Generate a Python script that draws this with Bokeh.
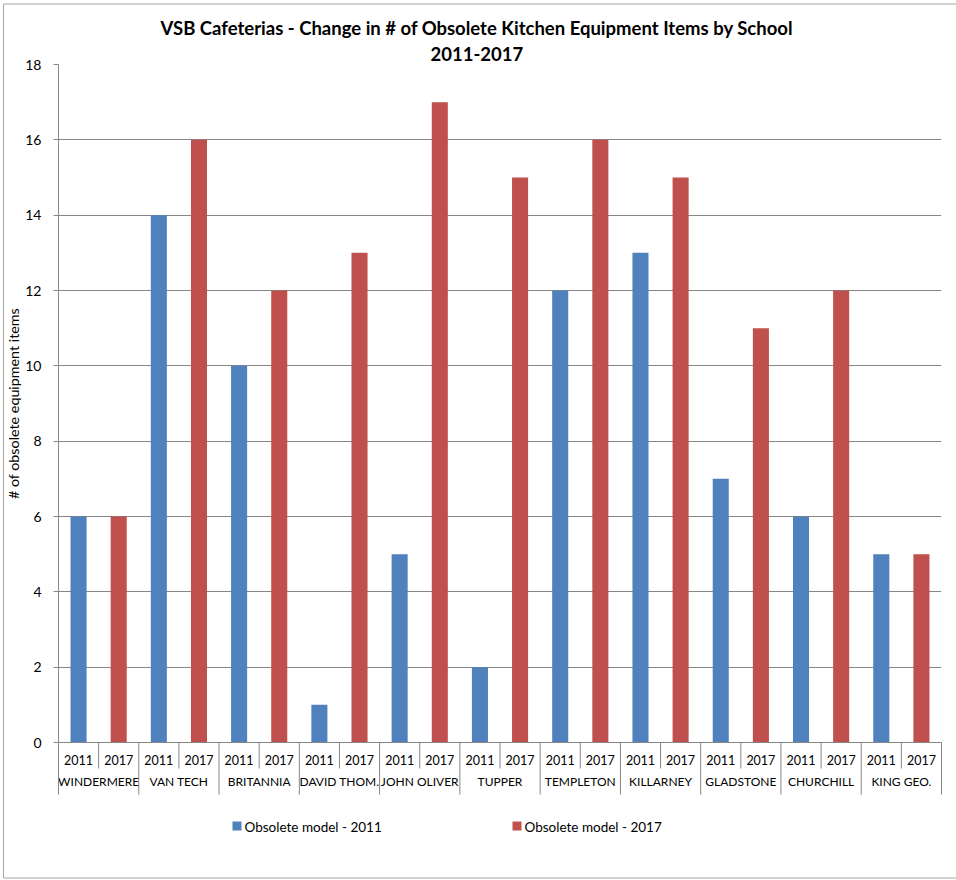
from bokeh.plotting import figure
from bokeh.models import FactorRange, Range1d, FixedTicker, Title
from bokeh.core.properties import value
from bokeh.embed import file_html
from bokeh.resources import INLINE

# Obsolete kitchen equipment counts per school cafeteria
schools = ["WINDERMERE", "VAN TECH", "BRITANNIA", "DAVID THOM.", "JOHN OLIVER",
           "TUPPER", "TEMPLETON", "KILLARNEY", "GLADSTONE", "CHURCHILL", "KING GEO."]
years = ["2011", "2017"]
obsolete_2011 = [6, 14, 10, 1, 5, 2, 12, 13, 7, 6, 5]
obsolete_2017 = [6, 16, 12, 13, 17, 15, 16, 15, 11, 12, 5]
y_ticks = [0, 2, 4, 6, 8, 10, 12, 14, 16, 18]
series_labels = ["Obsolete model - 2011", "Obsolete model - 2017"]

BLUE = "#4F81BD"
RED = "#C0504D"
GRID = "#868686"
INK = "black"
FONT = "Lato"

factors = [(s, y) for s in schools for y in years]

W, H = 956, 880
LEFT, RIGHT, TOP, BOTTOM = 58, 15, 64, 138
FRAME_W = W - LEFT - RIGHT
FRAME_H = H - TOP - BOTTOM

p = figure(
    width=W, height=H,
    x_range=FactorRange(*factors, factor_padding=0, subgroup_padding=0,
                        group_padding=0, range_padding=0),
    y_range=Range1d(y_ticks[0], y_ticks[-1]),
    output_backend="svg", toolbar_location=None,
    min_border_left=LEFT, min_border_right=RIGHT, min_border_top=TOP, min_border_bottom=BOTTOM,
)
p.title = None
p.outline_line_color = None
p.background_fill_color = "white"
p.border_fill_color = "white"

# two-line title, second line nearest the plot
p.add_layout(Title(text="2011-2017", align="left", offset=372, standoff=7,
                   text_font=FONT, text_font_size="18.5px", text_font_style="bold",
                   text_color=INK), "above")
p.add_layout(Title(text="VSB Cafeterias - Change in # of Obsolete Kitchen Equipment Items by School",
                   align="left", offset=102, standoff=6,
                   text_font=FONT, text_font_size="18.5px", text_font_style="bold",
                   text_color=INK), "above")

# bars
p.vbar(x=[(s, years[0]) for s in schools], top=obsolete_2011, width=0.4,
       fill_color=BLUE, line_color=None)
p.vbar(x=[(s, years[1]) for s in schools], top=obsolete_2017, width=0.4,
       fill_color=RED, line_color=None)

# y axis
p.yaxis.ticker = FixedTicker(ticks=y_ticks)
p.yaxis.axis_label = "# of obsolete equipment items"
p.yaxis.axis_label_text_font = FONT
p.yaxis.axis_label_text_font_size = "14.3px"
p.yaxis.axis_label_text_font_style = "normal"
p.yaxis.axis_label_text_color = INK
p.yaxis.axis_label_standoff = 0
p.yaxis.major_label_text_font = FONT
p.yaxis.major_label_text_font_size = "14px"
p.yaxis.major_label_text_color = INK
p.yaxis.major_label_standoff = 12
p.yaxis.axis_line_color = GRID
p.yaxis.major_tick_line_color = GRID
p.yaxis.major_tick_out = 5
p.yaxis.major_tick_in = 0
p.yaxis.minor_tick_line_color = None

p.ygrid.ticker = FixedTicker(ticks=y_ticks)
p.ygrid.grid_line_color = GRID
p.xgrid.grid_line_color = None

# x axis: years under each school
p.xaxis.axis_line_color = GRID
p.xaxis.major_tick_line_color = None
p.xaxis.minor_tick_line_color = None
p.xaxis.major_label_text_font = FONT
p.xaxis.major_label_text_font_size = "12.5px"
p.xaxis.major_label_text_color = INK
p.xaxis.major_label_standoff = 6
p.xaxis.group_text_font = FONT
p.xaxis.group_text_font_size = "12px"
p.xaxis.group_text_font_style = "normal"
p.xaxis.group_text_color = INK
p.xaxis.separator_line_color = None

# pixel <-> data helpers (synthetic x: one unit per year slot)
px_per_y = FRAME_H / (y_ticks[-1] - y_ticks[0])
px_per_x = FRAME_W / len(factors)


def dx(px):
    return (px - LEFT) / px_per_x


def dy(py):
    return y_ticks[0] - (py - (TOP + FRAME_H)) / px_per_y


# category separators below the baseline
n = len(factors)
x_long = [float(i) for i in range(0, n + 1, 2)]
x_short = [float(i) for i in range(1, n, 2)]
p.segment(x0=x_long, y0=[0] * len(x_long), x1=x_long, y1=[dy(794)] * len(x_long),
          line_color=GRID, line_width=1, level="overlay")
p.segment(x0=x_short, y0=[0] * len(x_short), x1=x_short, y1=[dy(768)] * len(x_short),
          line_color=GRID, line_width=1, level="overlay")

# chart-area border (top, left, bottom edges of the canvas)
p.segment(x0=[dx(3), dx(3), dx(3)], y0=[dy(3.5), dy(3.5), dy(877.5)],
          x1=[dx(W), dx(3), dx(W)], y1=[dy(3.5), dy(877.5), dy(877.5)],
          line_color="#A6A6A6", line_width=1, level="overlay")

# legend below the category labels
key_left = [232, 512]
p.quad(left=[dx(x) for x in key_left], right=[dx(x + 9) for x in key_left],
       top=[dy(821)] * 2, bottom=[dy(830)] * 2,
       fill_color=[BLUE, RED], line_color=None, level="overlay")
p.text(x=[dx(x + 12) for x in key_left], y=[dy(826)] * 2, text=series_labels,
       text_font=value(FONT), text_font_size="13.5px", text_color=INK,
       text_align="left", text_baseline="middle", level="overlay")

open("out.html", "w").write(file_html(p, INLINE))
